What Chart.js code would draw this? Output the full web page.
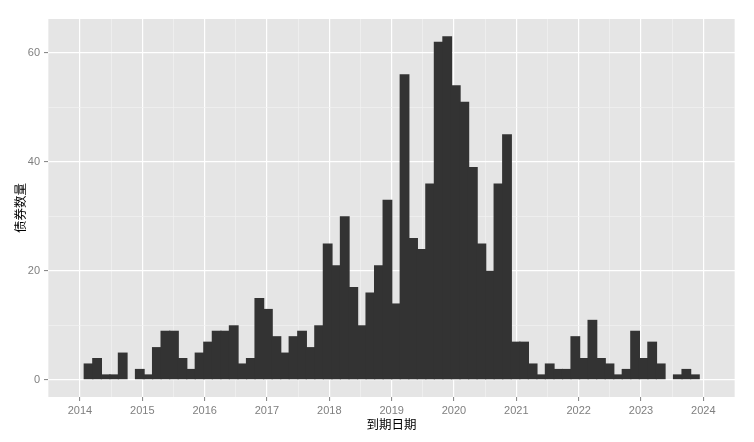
<!DOCTYPE html>
<html>
<head>
<meta charset="utf-8">
<script src="https://cdn.jsdelivr.net/npm/chart.js@4.4.0/dist/chart.umd.min.js"></script>
<style>
  html, body { margin: 0; padding: 0; background: #fff; }
  #wrap { width: 754px; height: 442px; }
</style>
</head>
<body>
<div id="wrap"><canvas id="myChart" width="754" height="442"></canvas></div>
<script>
// histogram of maturity dates, bins of ~50 days
var binStart = 2014.069;
var binWidth = 0.137;
var counts = [3, 4, 1, 1, 5, 0, 2, 1, 6, 9,
              9, 4, 2, 5, 7, 9, 9, 10, 3, 4,
              15, 13, 8, 5, 8, 9, 6, 10, 25, 21,
              30, 17, 10, 16, 21, 33, 14, 56, 26, 24,
              36, 62, 63, 54, 51, 39, 25, 20, 36, 45,
              7, 7, 3, 1, 3, 2, 2, 8, 4, 11,
              4, 3, 1, 2, 9, 4, 7, 3, 0, 1,
              2, 1];
var yearTicks = [2014, 2015, 2016, 2017, 2018, 2019, 2020, 2021, 2022, 2023, 2024];
var yearMinor = [2013.5, 2014.5, 2015.5, 2016.5, 2017.5, 2018.5, 2019.5, 2020.5, 2021.5, 2022.5, 2023.5, 2024.5];
var countTicks = [0, 20, 40, 60];
var countMinor = [10, 30, 50];

// empty bins are left out so no sliver is drawn on the baseline
var points = [];
for (var i = 0; i < counts.length; i++) {
  if (counts[i] > 0) {
    points.push({ x: binStart + binWidth * (i + 0.5), y: counts[i] });
  }
}

function isMajor(list, v) {
  for (var k = 0; k < list.length; k++) {
    if (Math.abs(list[k] - v) < 1e-6) return true;
  }
  return false;
}

function tickSetter(major, minor) {
  return function(scale) {
    var all = major.concat(minor).sort(function(a, b) { return a - b; });
    scale.ticks = all.map(function(v) { return { value: v }; });
  };
}

function gridFor(major) {
  return {
    color: function(c) { return c.tick && isMajor(major, c.tick.value) ? '#FFFFFF' : '#F2F2F2'; },
    lineWidth: function(c) { return c.tick && isMajor(major, c.tick.value) ? 1.2 : 0.7; },
    tickColor: function(c) { return c.tick && isMajor(major, c.tick.value) ? '#7F7F7F' : 'rgba(0,0,0,0)'; },
    tickWidth: 1,
    tickLength: 4,
    offset: false
  };
}

var panelBg = {
  id: 'panelBg',
  beforeDraw: function(chart) {
    var a = chart.chartArea;
    var ctx = chart.ctx;
    ctx.save();
    ctx.fillStyle = '#E5E5E5';
    ctx.fillRect(a.left, a.top, a.right - a.left, a.bottom - a.top);
    ctx.restore();
  }
};

var tickFont = { family: "'Liberation Sans', Arial, sans-serif", size: 11 };
var titleFont = { family: "'Noto Sans CJK SC', sans-serif", size: 12.5 };

var ctx = document.getElementById('myChart').getContext('2d');
var chart = new Chart(ctx, {
  type: 'bar',
  data: {
    datasets: [{
      label: '债券数量',
      data: points,
      backgroundColor: '#333333',
      borderWidth: 0,
      inflateAmount: 0,
      // a little wider than the bin so neighbouring bars leave no seam
      barPercentage: 1.15,
      categoryPercentage: 1
    }]
  },
  options: {
    responsive: false,
    animation: false,
    layout: { padding: { top: 19, right: 19, left: 0, bottom: 0 } },
    plugins: { legend: { display: false }, tooltip: { enabled: false } },
    scales: {
      x: {
        type: 'linear',
        min: 2013.487,
        max: 2024.508,
        offset: false,
        afterBuildTicks: tickSetter(yearTicks, yearMinor),
        afterFit: function(scale) { scale.height = 45; },
        grid: gridFor(yearTicks),
        border: { display: false },
        ticks: {
          autoSkip: false,
          maxRotation: 0,
          padding: 3,
          color: '#7F7F7F',
          font: tickFont,
          callback: function(v) { return isMajor(yearTicks, v) ? String(v) : ''; }
        },
        title: { display: true, text: '到期日期', color: '#000000', font: titleFont, padding: { top: 0, bottom: 10.5 } }
      },
      y: {
        min: -3.15,
        max: 66.15,
        afterBuildTicks: tickSetter(countTicks, countMinor),
        afterFit: function(scale) { scale.width = 48; },
        grid: gridFor(countTicks),
        border: { display: false },
        ticks: {
          padding: 4,
          color: '#7F7F7F',
          font: tickFont,
          callback: function(v) { return isMajor(countTicks, v) ? String(v) : ''; }
        },
        title: { display: true, text: '债券数量', color: '#000000', font: titleFont, padding: { top: 13, bottom: 0 } }
      }
    }
  },
  plugins: [panelBg]
});
</script>
</body>
</html>
